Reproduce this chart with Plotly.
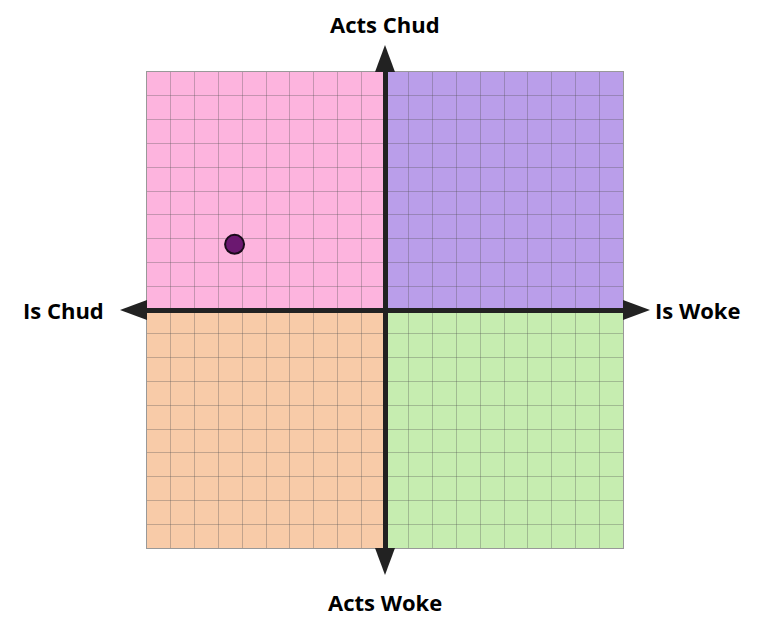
import plotly.graph_objects as go

# ---- data ----
point_x = [-6.32]
point_y = [2.76]
axis_min, axis_max = -10, 10
quadrant_x0 = [-10, 0, -10, 0]
quadrant_x1 = [0, 10, 0, 10]
quadrant_y0 = [0, 0, -10, -10]
quadrant_y1 = [10, 10, 0, 0]
quadrant_colors = ["#FDB4DE", "#BA9EEA", "#F8CBA8", "#C6EDB0"]
label_top = "Acts Chud"
label_bottom = "Acts Woke"
label_left = "Is Chud"
label_right = "Is Woke"

# ---- layout geometry (pixels, in page coordinates; page body has 8px margin) ----
OFF = 8
W, H = 770 - 2 * OFF, 620 - 2 * OFF
L, T, S = 147 - OFF, 72 - OFF, 476  # plot left, top, size (figure coords)


def px(xp):
    # xp in page pixel coordinates
    return (xp - OFF - L) / S


def py(yp):
    return (T + S - (yp - OFF)) / S


fig = go.Figure()

fig.add_trace(go.Scatter(
    x=point_x, y=point_y, mode="markers",
    marker=dict(size=19, color="#6B1870", line=dict(color="#1a0a1a", width=2)),
    hoverinfo="skip", showlegend=False,
))

shapes = []
for x0, x1, y0, y1, c in zip(quadrant_x0, quadrant_x1, quadrant_y0, quadrant_y1, quadrant_colors):
    shapes.append(dict(type="rect", xref="x", yref="y", x0=x0, x1=x1, y0=y0, y1=y1,
                       fillcolor=c, line=dict(width=0), layer="below"))

arrow_col = "#222222"
hw = 10  # arrow half-width px
ln = 27  # arrow length px
PL, PT = 147, 72  # page coords of plot area
cx, cy = PL + S / 2, PT + S / 2
# up arrow
shapes.append(dict(type="path", xref="paper", yref="paper",
                   path=f"M {px(cx-hw)} {py(PT)} L {px(cx+hw)} {py(PT)} L {px(cx)} {py(PT-ln)} Z",
                   fillcolor=arrow_col, line=dict(width=0)))
# down arrow
shapes.append(dict(type="path", xref="paper", yref="paper",
                   path=f"M {px(cx-hw)} {py(PT+S)} L {px(cx+hw)} {py(PT+S)} L {px(cx)} {py(PT+S+ln)} Z",
                   fillcolor=arrow_col, line=dict(width=0)))
# left arrow
shapes.append(dict(type="path", xref="paper", yref="paper",
                   path=f"M {px(PL)} {py(cy-hw)} L {px(PL)} {py(cy+hw)} L {px(PL-ln)} {py(cy)} Z",
                   fillcolor=arrow_col, line=dict(width=0)))
# right arrow
shapes.append(dict(type="path", xref="paper", yref="paper",
                   path=f"M {px(PL+S)} {py(cy-hw)} L {px(PL+S)} {py(cy+hw)} L {px(PL+S+ln)} {py(cy)} Z",
                   fillcolor=arrow_col, line=dict(width=0)))

font = dict(family="Open Sans", size=22, color="#000000")
annotations = [
    dict(text=f"<b>{label_top}</b>", xref="paper", yref="paper", x=0.5, y=py(24),
         xanchor="center", yanchor="middle", showarrow=False, font=font),
    dict(text=f"<b>{label_bottom}</b>", xref="paper", yref="paper", x=0.5, y=py(602),
         xanchor="center", yanchor="middle", showarrow=False, font=font),
    dict(text=f"<b>{label_left}</b>", xref="paper", yref="paper", x=px(106), y=py(310),
         xanchor="right", yanchor="middle", showarrow=False, font=font),
    dict(text=f"<b>{label_right}</b>", xref="paper", yref="paper", x=px(653), y=py(310),
         xanchor="left", yanchor="middle", showarrow=False, font=font),
]

axis_common = dict(
    range=[axis_min, axis_max], dtick=1, tick0=0,
    showgrid=True, gridcolor="rgba(80,80,80,0.32)", gridwidth=1,
    zeroline=True, zerolinecolor=arrow_col, zerolinewidth=5,
    showline=True, linecolor="#999999", linewidth=1, mirror=True,
    showticklabels=False, ticks="", fixedrange=True,
)

fig.update_layout(
    width=W, height=H,
    margin=dict(l=L, r=W - L - S, t=T, b=H - T - S, pad=0),
    paper_bgcolor="white", plot_bgcolor="white",
    xaxis=axis_common, yaxis=axis_common,
    shapes=shapes, annotations=annotations,
    showlegend=False,
)

fig.write_html("out.html")
